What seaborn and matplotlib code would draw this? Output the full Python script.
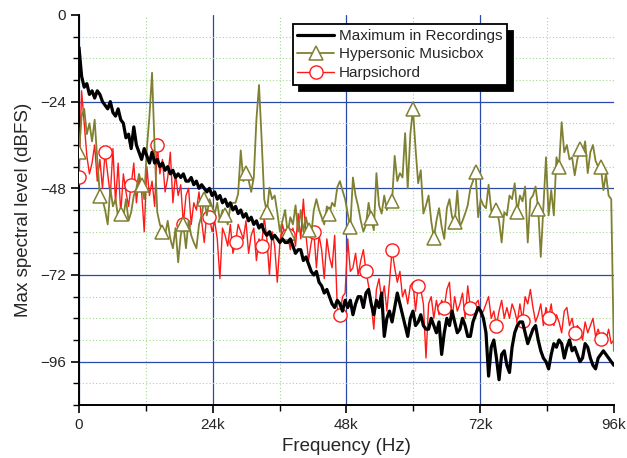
import numpy as np
import seaborn as sns
import matplotlib.pyplot as plt
from matplotlib.ticker import MultipleLocator

# frequency bins (Hz), 206 bins spanning 0..96k
freq = np.linspace(0, 96000, 206)

max_recordings = [
    -9, -17, -20, -19, -22, -21, -23, -21, -22, -24,
    -25, -26, -24, -27, -28, -26, -29, -30, -34, -33,
    -37, -31, -36, -38, -40, -37, -39, -41, -38, -41,
    -40, -42, -41, -43, -42, -44, -43, -45, -44, -45,
    -44, -46, -46, -45, -47, -46, -48, -47, -48, -49,
    -48, -50, -49, -51, -50, -52, -51, -53, -52, -54,
    -53, -55, -54, -56, -55, -57, -56, -58, -57, -59,
    -58, -60, -61, -60, -62, -61, -62, -63, -62, -63,
    -63, -62, -64, -66, -65, -65, -68, -67, -69, -71,
    -72, -71, -74, -75, -77, -76, -78, -80, -81, -79,
    -80, -82, -79, -81, -79, -83, -80, -78, -78, -81,
    -77, -76, -80, -83, -79, -81, -77, -89, -84, -82,
    -85, -81, -77, -80, -83, -86, -89, -84, -82, -86,
    -85, -83, -86, -87, -87, -84, -86, -88, -85, -94,
    -88, -84, -86, -82, -85, -88, -87, -84, -86, -89,
    -89, -85, -83, -81, -82, -84, -88, -100, -92, -90,
    -95, -101, -94, -93, -97, -99, -92, -88, -86, -85,
    -85, -88, -91, -89, -87, -86, -90, -93, -95, -96,
    -98, -94, -91, -92, -90, -91, -95, -92, -90, -93,
    -92, -94, -96, -95, -91, -92, -95, -97, -98, -95,
    -94, -93, -94, -95, -96, -97,
]

musicbox = [
    -38, -28, -26, -33, -30, -35, -29, -40, -50, -51,
    -54, -58, -48, -53, -51, -56, -55, -56, -51, -57,
    -54.6, -50, -48, -44, -47, -51, -37, -28, -16, -37,
    -54.6, -58, -60, -61, -57, -62, -64.6, -59, -68.5, -61,
    -58, -64.6, -57, -61, -63, -64.6, -58, -55.5, -51, -55.5,
    -51, -53, -55, -52, -57, -54, -55.5, -58, -53, -52,
    -52, -49.5, -37.5, -46, -43.8, -45.7, -49, -45, -29, -19.4,
    -34.4, -51, -54.6, -47.8, -51, -50, -54.6, -60, -57, -54,
    -60.5, -56, -58, -52.7, -60, -54, -60, -56, -59.6, -61,
    -54, -51, -54, -56, -58, -53, -55, -52, -53, -47.7,
    -46, -48.6, -51, -55, -58.8, -45, -50, -53, -57, -60,
    -58, -52, -56.3, -59.6, -43.8, -52.7, -55, -50, -54, -52,
    -51.6, -39, -46, -43.8, -45, -32.7, -48, -33, -26, -37,
    -46.6, -43, -55, -52.7, -50, -57, -61.8, -57, -53.5, -58.6,
    -62, -53.5, -51, -56, -57.4, -48.6, -58.6, -57, -55, -52.7,
    -48, -46, -43.6, -56, -51, -52.7, -53.5, -47, -54, -56,
    -54, -57, -63, -54.6, -55.5, -50, -51, -46.6, -54.6, -50,
    -51.6, -47.5, -63, -51, -50, -47.5, -53.6, -67, -53, -39.4,
    -55.5, -48.5, -55.5, -39.4, -42, -29.7, -38, -36, -40, -39.4,
    -44.4, -40, -37, -39, -35, -43.8, -38, -36, -40.4, -42,
    -42, -48.5, -44, -50, -51, -93,
]

harpsichord = [
    -45, -21, -30, -39, -44, -41, -36, -46, -40, -48,
    -38, -44, -50, -37, -52, -41, -55, -44, -49, -53,
    -47, -41, -52, -45, -49, -60, -42, -50, -46, -53,
    -36, -44, -40, -49, -45, -38, -52, -44, -50, -47,
    -58, -50, -48, -58, -52, -54, -49, -57, -63, -55,
    -56, -60, -57, -62, -73, -59, -61, -64, -58, -66,
    -63, -58, -60, -62, -57, -66, -61, -59, -68, -62,
    -64, -56, -62, -72, -60, -64, -74, -63, -58, -61,
    -61, -65, -59, -64, -55, -62, -51, -61, -68, -63,
    -60, -70, -61, -65, -73, -62, -67, -70, -61, -81,
    -83, -78, -77, -62, -71, -70, -66, -72, -68, -65,
    -71, -75, -80, -87, -76, -73, -79, -75, -82, -74,
    -65, -70, -74, -71, -78, -76, -80, -75, -74, -82,
    -75, -76, -80, -95, -80, -78, -84, -79, -83, -79,
    -81, -76, -74, -84, -78, -82, -80, -77, -84, -75,
    -81, -83, -80, -79, -83, -82, -80, -78, -84, -82,
    -86, -82, -79, -84, -81, -84, -80, -82, -85, -80,
    -84.6, -78, -80, -76, -81, -85, -83, -80, -86, -81,
    -84, -80, -86, -83, -85, -88, -82, -81, -86, -84,
    -88, -86, -87, -90, -85, -88, -86, -84, -89, -87,
    -89.6, -88, -90, -87, -91, -90,
]

xtick_vals = [0, 24000, 48000, 72000, 96000]
xtick_labels = ["0", "24k", "48k", "72k", "96k"]
ytick_vals = [0, -24, -48, -72, -96]

sns.set_style("white")
plt.rcParams["font.family"] = ["Liberation Sans", "DejaVu Sans"]

fig = plt.figure(figsize=(6.27, 4.58), dpi=100)
ax = fig.add_axes([0.126, 0.1157, 0.853, 0.8516])

olive = "#808033"
red = "#ff1a1a"

# red underneath, olive over it, black envelope on top
sns.lineplot(x=freq, y=harpsichord, ax=ax, color=red, lw=1.0, sort=False,
             estimator=None, marker="o", markevery=10, ms=9.5, mfc="white",
             mec=red, mew=1.0, label="Harpsichord", zorder=3)
sns.lineplot(x=freq, y=musicbox, ax=ax, color=olive, lw=1.3, sort=False,
             estimator=None, marker="^", markevery=8, ms=10.5, mfc="white",
             mec=olive, mew=1.1, label="Hypersonic Musicbox", zorder=4)
sns.lineplot(x=freq, y=max_recordings, ax=ax, color="black", lw=2.3, sort=False,
             estimator=None, label="Maximum in Recordings", zorder=5)

ax.set_xlim(0, 96000)
ax.set_ylim(-108, 0)
ax.set_xticks(xtick_vals)
ax.set_xticklabels(xtick_labels)
ax.set_yticks(ytick_vals)
ax.xaxis.set_minor_locator(MultipleLocator(12000))
ax.yaxis.set_minor_locator(MultipleLocator(6))

ax.grid(True, which="major", color="#2b4aa8", lw=0.9, zorder=1)
ax.grid(True, which="minor", color="#9edb8c", lw=0.8, ls=(0, (1, 2)), zorder=1)
ax.set_axisbelow(True)
# no gridline on the top/right limits
ax.get_xgridlines()[-1].set_visible(False)
ax.get_ygridlines()[0].set_visible(False)

for s in ["top", "right"]:
    ax.spines[s].set_visible(False)
for s in ["left", "bottom"]:
    ax.spines[s].set_color("black")
    ax.spines[s].set_linewidth(1.4)

ax.tick_params(which="major", direction="out", length=6, width=1.2,
               labelsize=11, bottom=True, left=True, color="black")
ax.tick_params(which="minor", direction="out", length=4, width=1.0,
               bottom=True, left=True, color="black")

ax.set_xlabel("Frequency (Hz)", fontsize=13.5, labelpad=4)
ax.set_ylabel("Max spectral level (dBFS)", fontsize=13.5, labelpad=6)

handles, labels = ax.get_legend_handles_labels()
order = [2, 1, 0]
leg = ax.legend([handles[i] for i in order], [labels[i] for i in order],
                loc="upper left", bbox_to_anchor=(0.467, 0.947),
                bbox_transform=fig.transFigure, fontsize=11,
                frameon=True, fancybox=False, framealpha=1,
                edgecolor="black", borderpad=0.3, labelspacing=0.3,
                handlelength=2.4, handletextpad=0.3, borderaxespad=0,
                shadow={"ox": 4.5, "oy": -4.5, "facecolor": "black",
                        "edgecolor": "black", "alpha": 1})
leg.get_frame().set_linewidth(1.3)
leg.set_zorder(10)

plt.savefig("out.png", dpi=100)
plt.close()
